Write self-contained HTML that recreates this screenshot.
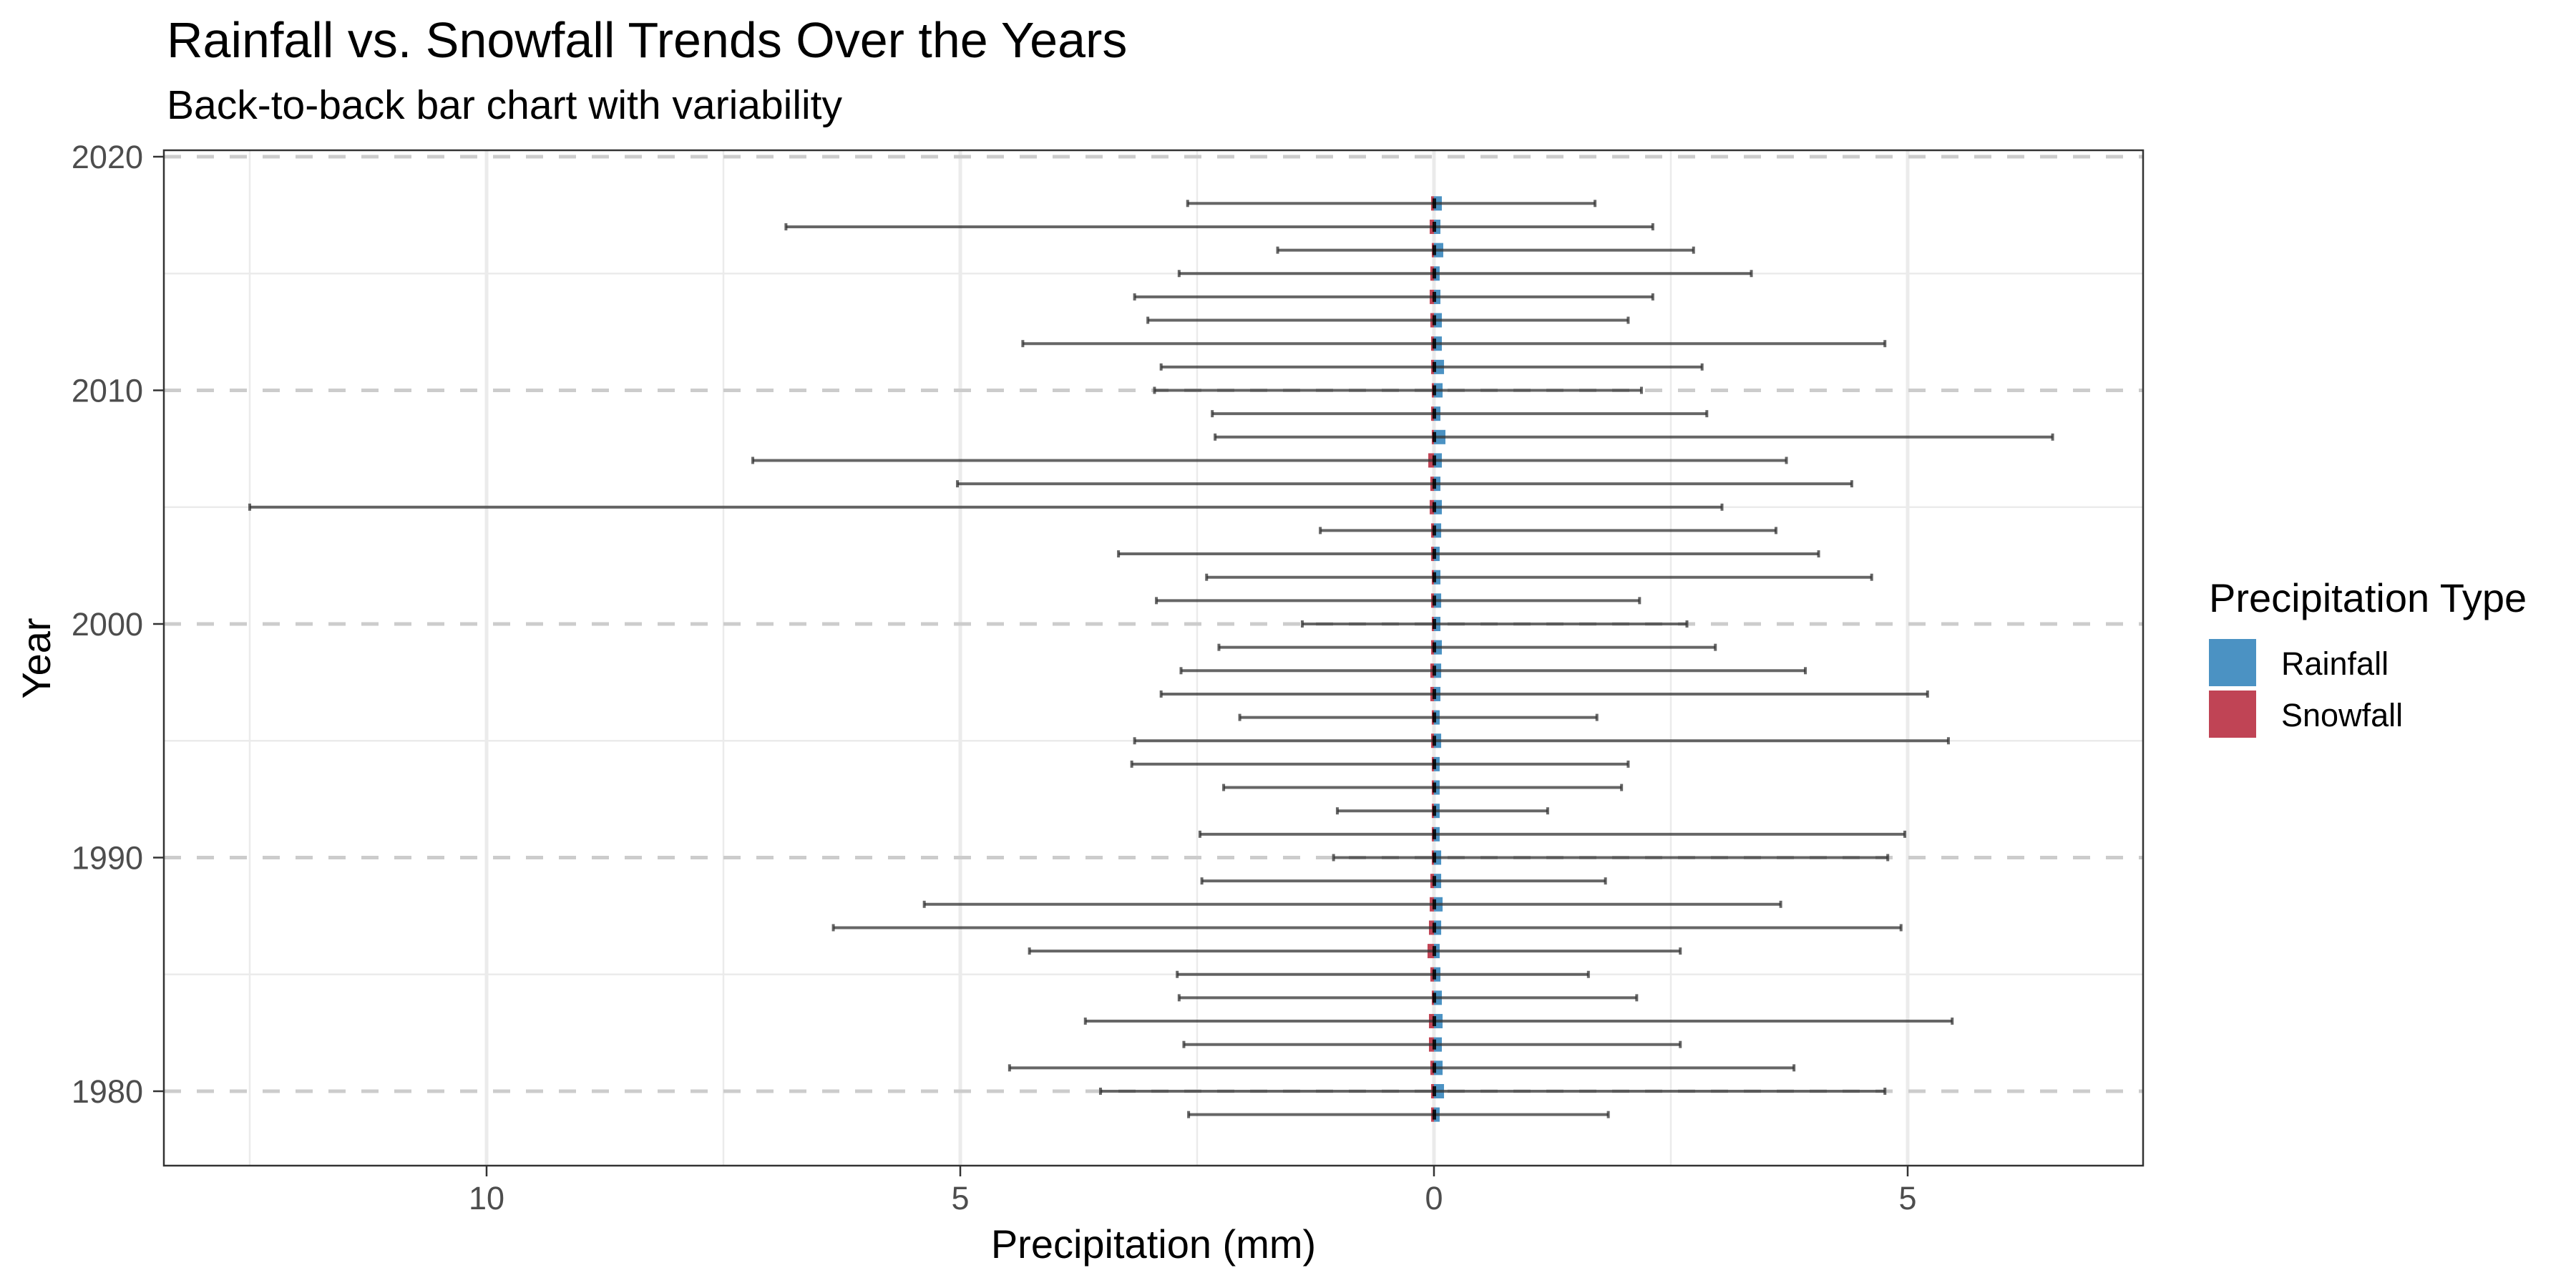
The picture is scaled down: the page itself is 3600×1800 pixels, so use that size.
<!DOCTYPE html>
<html><head><meta charset="utf-8"><style>
html,body{margin:0;padding:0;background:#fff;}
svg{display:block;font-family:"Liberation Sans",Arial,sans-serif;}
</style></head><body>
<svg id="chart" width="3600" height="1800" viewBox="0 0 3600 1800">
<text x="233" y="80" font-size="70" fill="#000">Rainfall vs. Snowfall Trends Over the Years</text>
<text x="233" y="166" font-size="57" fill="#000">Back-to-back bar chart with variability</text>
<g id="grid"></g>
<g id="marks"></g>
<rect x="229" y="210" width="2766" height="1419" fill="none" stroke="#333" stroke-width="2.5"/>
<g id="axes"></g>
<text x="1612" y="1758" font-size="56" text-anchor="middle" fill="#000">Precipitation (mm)</text>
<text transform="translate(70,920) rotate(-90)" font-size="56" text-anchor="middle" fill="#000">Year</text>
<g>
<text x="3087" y="855" font-size="56" fill="#000">Precipitation Type</text>
<rect x="3087" y="893" width="66" height="66" fill="#4b92c3"/>
<text x="3188" y="943" font-size="45" fill="#000">Rainfall</text>
<rect x="3087" y="965" width="66" height="66" fill="#c04455"/>
<text x="3188" y="1015" font-size="45" fill="#000">Snowfall</text>
</g>
</svg>
<script>
const years=[2018,2017,2016,2015,2014,2013,2012,2011,2010,2009,2008,2007,2006,2005,2004,2003,2002,2001,2000,1999,1998,1997,1996,1995,1994,1993,1992,1991,1990,1989,1988,1987,1986,1985,1984,1983,1982,1981,1980,1979];
const rainfall=[0.083,0.068,0.098,0.06,0.068,0.083,0.083,0.106,0.091,0.068,0.121,0.083,0.068,0.083,0.076,0.06,0.068,0.076,0.068,0.083,0.076,0.068,0.06,0.076,0.06,0.06,0.06,0.06,0.076,0.076,0.091,0.076,0.06,0.068,0.083,0.091,0.083,0.091,0.106,0.06];
const snowfall=[0.03,0.045,0.023,0.038,0.045,0.038,0.03,0.03,0.023,0.03,0.023,0.06,0.038,0.045,0.03,0.03,0.023,0.03,0.023,0.03,0.038,0.038,0.023,0.03,0.023,0.023,0.023,0.023,0.023,0.038,0.045,0.053,0.068,0.038,0.023,0.053,0.053,0.038,0.03,0.03];
const errLow=[-2.60,-6.84,-1.65,-2.69,-3.16,-3.02,-4.34,-2.88,-2.95,-2.34,-2.31,-7.19,-5.03,-12.50,-1.20,-3.33,-2.40,-2.93,-1.39,-2.27,-2.67,-2.88,-2.05,-3.16,-3.19,-2.22,-1.02,-2.47,-1.06,-2.45,-5.38,-6.34,-4.27,-2.71,-2.69,-3.68,-2.64,-4.48,-3.52,-2.59];
const errHigh=[1.70,2.31,2.74,3.35,2.31,2.05,4.76,2.83,2.19,2.88,6.53,3.72,4.41,3.04,3.61,4.06,4.62,2.17,2.67,2.97,3.92,5.21,1.72,5.43,2.05,1.98,1.20,4.97,4.79,1.81,3.66,4.93,2.60,1.63,2.14,5.47,2.60,3.80,4.76,1.84];
const xTicks=[-10,-5,0,5];
const xTickLabels=["10","5","0","5"];
const yTicks=[1980,1990,2000,2010,2020];
const yTickLabels=["1980","1990","2000","2010","2020"];

const PL=229,PR=2995,PT=210,PB=1629;
const X0=2004,XU=132.4;
function xs(v){return X0+v*XU;}
function ys(y){return 219+(2020-y)*32.65;}
const NS="http://www.w3.org/2000/svg";
function mk(tag,attrs,parent){const e=document.createElementNS(NS,tag);for(const k in attrs)e.setAttribute(k,attrs[k]);parent.appendChild(e);return e;}
const grid=document.getElementById('grid'),marks=document.getElementById('marks'),axes=document.getElementById('axes');
[-12.5,-7.5,-2.5,2.5].forEach(v=>{const l=mk('line',{x1:xs(v),x2:xs(v),y1:PT,y2:PB,stroke:'#ebebeb','stroke-width':2.5},grid);

});
xTicks.forEach(v=>{const l=mk('line',{x1:xs(v),x2:xs(v),y1:PT,y2:PB,stroke:'#ebebeb','stroke-width':5},grid);

});
[1985,1995,2005,2015].forEach(y=>{const l=mk('line',{x1:PL,x2:PR,y1:ys(y),y2:ys(y),stroke:'#ebebeb','stroke-width':2.5},grid);

});
yTicks.forEach(y=>{const l=mk('line',{x1:PL,x2:PR,y1:ys(y),y2:ys(y),stroke:'#cccccc','stroke-width':5,'stroke-dasharray':'24 22'},grid);

});
const bh=20;
years.forEach((yr,i)=>{
 const cy=ys(yr);
 const r=mk('rect',{x:xs(0),y:cy-bh/2,width:rainfall[i]*XU,height:bh,fill:'#4b92c3'},marks);
 
 
 const s=mk('rect',{x:xs(-snowfall[i]),y:cy-bh/2,width:snowfall[i]*XU,height:bh,fill:'#c04455'},marks);
 
 
 const g=mk('g',{stroke:'#333','stroke-opacity':0.75,'stroke-width':4},marks);
 
 
 mk('line',{x1:xs(errLow[i]),x2:xs(errHigh[i]),y1:cy,y2:cy},g);
 mk('line',{x1:xs(errLow[i]),x2:xs(errLow[i]),y1:cy-5,y2:cy+5},g);
 mk('line',{x1:xs(errHigh[i]),x2:xs(errHigh[i]),y1:cy-5,y2:cy+5},g);
 const c=mk('rect',{x:xs(0)-2,y:cy-7,width:5,height:14,fill:'#000',opacity:0.85},marks);
 
 
});
xTicks.forEach((v,i)=>{
 const t=mk('line',{x1:xs(v),x2:xs(v),y1:PB,y2:PB+15,stroke:'#333','stroke-width':2.5},axes);
 
 
 const l=mk('text',{x:xs(v),y:1690,'font-size':45,fill:'#4d4d4d','text-anchor':'middle'},axes);
 l.textContent=xTickLabels[i];
 
 
});
yTicks.forEach((y,i)=>{
 const t=mk('line',{x1:PL-15,x2:PL,y1:ys(y),y2:ys(y),stroke:'#333','stroke-width':2.5},axes);
 
 
 const l=mk('text',{x:200,y:ys(y)+16,'font-size':45,fill:'#4d4d4d','text-anchor':'end'},axes);
 l.textContent=yTickLabels[i];
 
 
});
</script>
</body></html>
